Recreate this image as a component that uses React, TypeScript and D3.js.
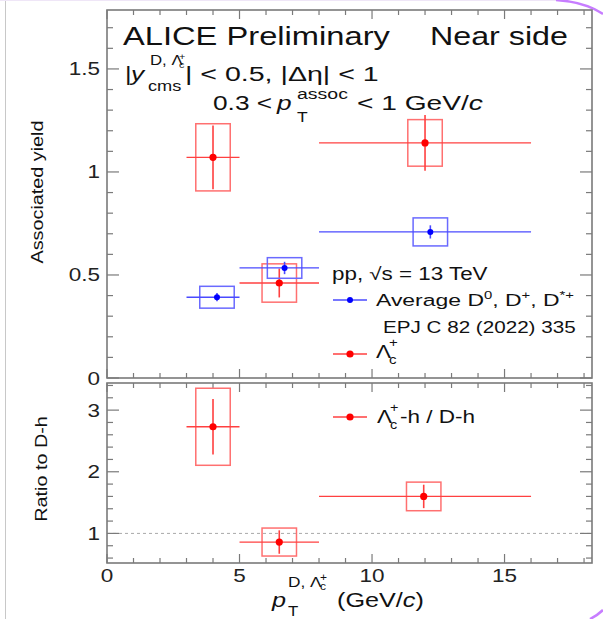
import React from 'react';
import * as d3 from 'd3';

// pT bins (GeV/c)
const binLow = [3, 5, 8];
const binHigh = [5, 8, 16];

// Average D0, D+, D*+ near-side yield
const dPt = [4.15, 6.7, 12.2];
const dYield = [0.392, 0.534, 0.709];
const dStat = [0.02, 0.03, 0.032];
const dSyst = [0.053, 0.05, 0.068];

// Lambda_c+ near-side yield
const lcPt = [4.0, 6.5, 12.0];
const lcYield = [1.071, 0.461, 1.141];
const lcStat = [0.155, 0.07, 0.135];
const lcSyst = [0.163, 0.093, 0.113];

// ratio Lc-h / D-h
const ratioPt = [4.0, 6.5, 11.95];
const ratioVal = [2.73, 0.86, 1.6];
const ratioStat = [0.45, 0.19, 0.19];
const ratioSyst = [0.625, 0.227, 0.232];

const topTickLabels = ['0', '0.5', '1', '1.5'];
const botTickLabels = ['1', '2', '3'];
const xTickLabels = ['0', '5', '10', '15'];

const FONT = "'Liberation Sans', Arial, Helvetica, sans-serif";
const FRAME = '#7a7a7a';
const BOX_HALF = 0.65;

const Txt = ({ x, y, size, sx = 1.25, anchor = 'start', rot = 0, italic = false, fill = '#111', children }: any) => (
  <text
    transform={`translate(${x},${y}) rotate(${rot}) scale(${sx},1)`}
    fontSize={size}
    textAnchor={anchor}
    fontStyle={italic ? 'italic' : 'normal'}
    fill={fill}
    fontFamily={FONT}
  >
    {children}
  </text>
);

const Series = ({ xs, ys, stat, syst, x, y, line, box, mark, r }: any) => (
  <g>
    {xs.map((px: number, i: number) => (
      <g key={i}>
        <rect
          x={x(px - BOX_HALF)}
          y={y(ys[i] + syst[i])}
          width={x(px + BOX_HALF) - x(px - BOX_HALF)}
          height={y(ys[i] - syst[i]) - y(ys[i] + syst[i])}
          fill="none"
          stroke={box}
          strokeWidth={1.5}
        />
        <line x1={x(binLow[i])} x2={x(binHigh[i])} y1={y(ys[i])} y2={y(ys[i])} stroke={line} strokeWidth={1.3} />
        <line x1={x(px)} x2={x(px)} y1={y(ys[i] + stat[i])} y2={y(ys[i] - stat[i])} stroke={line} strokeWidth={1.6} />
        <circle cx={x(px)} cy={y(ys[i])} r={r} fill={mark} />
      </g>
    ))}
  </g>
);

export default function App() {
  const left = 107, right = 592;
  const x = d3.scaleLinear().domain([0, 18.3]).range([left, right]);
  const yTop = d3.scaleLinear().domain([0, 1.786]).range([378, 10]);
  const yBot = d3.scaleLinear().domain([0.52, 3.44]).range([563, 383]);

  const xTicks = d3.range(0, 19, 1).filter(v => x(v) < right - 1);
  const yTopTicks = d3.range(0, 18, 1).map(v => v / 10);
  const yBotTicks = d3.range(3, 18, 1).map(v => v / 5);

  const redLine = '#ff4040';
  const redBox = '#ff7070';
  const blueLine = '#4a4aff';
  const blueBox = '#6a6aff';

  const xTickMarks = (yBase: number, yTopEdge: number) =>
    xTicks.map(v => {
      const len = v % 5 === 0 ? 9 : 5;
      return (
        <g key={'xt' + yBase + v}>
          <line x1={x(v)} x2={x(v)} y1={yBase} y2={yBase - len} stroke={FRAME} strokeWidth={1.2} />
          <line x1={x(v)} x2={x(v)} y1={yTopEdge} y2={yTopEdge + len} stroke={FRAME} strokeWidth={1.2} />
        </g>
      );
    });

  const yTickMarks = (ticks: number[], ys: any, isMajor: (v: number) => boolean) =>
    ticks.map(v => {
      const len = isMajor(v) ? 12 : 6;
      return (
        <g key={'yt' + v}>
          <line x1={left} x2={left + len} y1={ys(v)} y2={ys(v)} stroke={FRAME} strokeWidth={1.2} />
          <line x1={right} x2={right - len} y1={ys(v)} y2={ys(v)} stroke={FRAME} strokeWidth={1.2} />
        </g>
      );
    });

  return (
    <div style={{ position: 'absolute', left: 0, top: 0 }}>
      <svg width={603} height={619} style={{ display: 'block', background: '#fff' }}>
        {/* screenshot edges */}
        <line x1={5.5} x2={5.5} y1={0} y2={619} stroke="#c8c8c8" strokeWidth={1} />
        <line x1={0} x2={560} y1={0.5} y2={0.5} stroke="#efe6f7" strokeWidth={1} />
        <path d="M556,0 Q585,2 603,14" fill="none" stroke="#c77dff" strokeWidth={2.5} />
        <path d="M590,619 Q598,615 603,610" fill="none" stroke="#c77dff" strokeWidth={2.5} />

        {/* upper panel */}
        <rect x={left} y={10} width={right - left} height={368} fill="none" stroke={FRAME} strokeWidth={1.6} />
        {xTickMarks(378, 10)}
        {yTickMarks(yTopTicks, yTop, v => Math.abs(v * 2 - Math.round(v * 2)) < 1e-6)}
        {[0, 0.5, 1, 1.5].map((v, i) => (
          <Txt key={'tl' + v} x={100} y={yTop(v) + 6.5} size={18} anchor="end" fill="#222">{topTickLabels[i]}</Txt>
        ))}

        <Series xs={lcPt} ys={lcYield} stat={lcStat} syst={lcSyst} x={x} y={yTop} line={redLine} box={redBox} mark="#ff0000" r={3.6} />
        <Series xs={dPt} ys={dYield} stat={dStat} syst={dSyst} x={x} y={yTop} line={blueLine} box={blueBox} mark="#0000ff" r={3} />

        {/* header texts */}
        <Txt x={123} y={45} size={26} sx={1.257}>ALICE Preliminary</Txt>
        <Txt x={430} y={45} size={26} sx={1.24}>Near side</Txt>

        <Txt x={125} y={81} size={21} sx={1.2}>|</Txt>
        <Txt x={131} y={81} size={21} sx={1.25} italic>y</Txt>
        <Txt x={150} y={65} size={14} sx={1.2}>D, Λ</Txt>
        <Txt x={179} y={68} size={9} sx={1.2}>c</Txt>
        <Txt x={179} y={60} size={9} sx={1.2}>+</Txt>
        <Txt x={148} y={91} size={14} sx={1.3}>cms</Txt>
        <Txt x={185} y={81} size={21} sx={1.36}>| &lt; 0.5, |Δη| &lt; 1</Txt>

        <Txt x={213} y={110} size={21} sx={1.25}>0.3 &lt;</Txt>
        <Txt x={277} y={110} size={21} sx={1.25} italic>p</Txt>
        <Txt x={297} y={99} size={15} sx={1.3}>assoc</Txt>
        <Txt x={297} y={122} size={14} sx={1.25}>T</Txt>
        <Txt x={357} y={110} size={21} sx={1.34}>&lt; 1 GeV/<tspan fontStyle="italic">c</tspan></Txt>

        {/* legend upper */}
        <Txt x={332} y={280} size={17.5} sx={1.28}>pp, √s = 13 TeV</Txt>
        <line x1={333} x2={367} y1={300} y2={300} stroke={blueLine} strokeWidth={1.3} />
        <circle cx={350} cy={300} r={3} fill="#0000ff" />
        <Txt x={376} y={306} size={17} sx={1.35}>
          Average D<tspan fontSize={11} dy={-7}>0</tspan>
          <tspan dy={7}>, D</tspan><tspan fontSize={11} dy={-7}>+</tspan>
          <tspan dy={7}>, D</tspan><tspan fontSize={11} dy={-7}>*+</tspan>
        </Txt>
        <Txt x={383} y={333} size={16} sx={1.29}>EPJ C 82 (2022) 335</Txt>
        <line x1={333} x2={367} y1={354} y2={354} stroke={redLine} strokeWidth={1.3} />
        <circle cx={350} cy={354} r={3.6} fill="#ff0000" />
        <Txt x={376} y={358} size={18} sx={1.25}>Λ</Txt>
        <Txt x={389} y={364} size={12} sx={1.25}>c</Txt>
        <Txt x={389} y={347} size={12} sx={1.25}>+</Txt>

        {/* lower panel */}
        <rect x={left} y={383} width={right - left} height={180} fill="none" stroke={FRAME} strokeWidth={1.6} />
        <line x1={left} x2={right} y1={yBot(1)} y2={yBot(1)} stroke="#aaaaaa" strokeWidth={1} strokeDasharray="3,3" />
        {xTickMarks(563, 383)}
        {yTickMarks(yBotTicks, yBot, v => Math.abs(v - Math.round(v)) < 1e-6)}
        {[1, 2, 3].map((v, i) => (
          <Txt key={'bl' + v} x={100} y={yBot(v) + 6.5} size={18} anchor="end" fill="#222">{botTickLabels[i]}</Txt>
        ))}
        {[0, 5, 10, 15].map((v, i) => (
          <Txt key={'xl' + v} x={x(v)} y={582} size={18} anchor="middle" fill="#222">{xTickLabels[i]}</Txt>
        ))}

        <Series xs={ratioPt} ys={ratioVal} stat={ratioStat} syst={ratioSyst} x={x} y={yBot} line={redLine} box={redBox} mark="#ff0000" r={3.6} />

        <line x1={333} x2={367} y1={417} y2={417} stroke={redLine} strokeWidth={1.3} />
        <circle cx={350} cy={417} r={3.6} fill="#ff0000" />
        <Txt x={377} y={423} size={18} sx={1.25}>Λ</Txt>
        <Txt x={390} y={429} size={12} sx={1.2}>c</Txt>
        <Txt x={390} y={412} size={12} sx={1.2}>+</Txt>
        <Txt x={400} y={423} size={18} sx={1.25}>-h / D-h</Txt>

        {/* axis titles */}
        <Txt x={43} y={192} size={16.5} sx={1.2} rot={-90} anchor="middle">Associated yield</Txt>
        <Txt x={47} y={469} size={16.5} sx={1.2} rot={-90} anchor="middle">Ratio to D-h</Txt>

        <Txt x={272} y={607} size={21} sx={1.2} italic>p</Txt>
        <Txt x={288} y={587} size={15} sx={1.15}>D, Λ</Txt>
        <Txt x={320} y={590} size={10} sx={1.2}>c</Txt>
        <Txt x={320} y={581} size={10} sx={1.2}>+</Txt>
        <Txt x={288} y={616} size={14} sx={1.2}>T</Txt>
        <Txt x={337} y={607} size={21} sx={1.2}>(GeV/<tspan fontStyle="italic">c</tspan>)</Txt>
      </svg>
    </div>
  );
}
